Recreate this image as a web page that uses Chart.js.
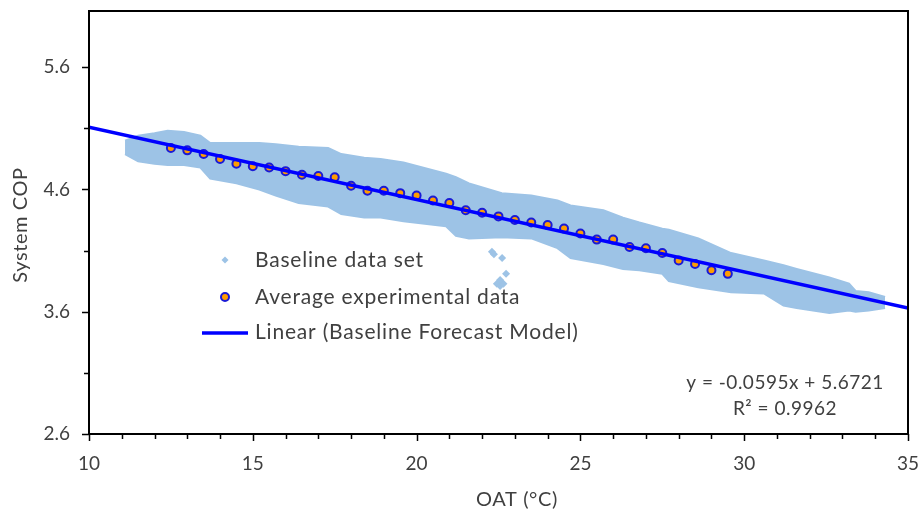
<!DOCTYPE html>
<html>
<head>
<meta charset="utf-8">
<script src="https://cdn.jsdelivr.net/npm/chart.js@4/dist/chart.umd.min.js"></script>
<style>
  html, body { margin: 0; padding: 0; background: #fff; }
</style>
</head>
<body>
<canvas id="copChart" width="922" height="513"></canvas>
<script>
/* Data */
// baseline cloud, outer edges of the band
const bandX     = [11.1, 11.5, 12.0, 12.4, 12.9, 13.4, 13.7, 14.5, 15.2, 15.7, 16.4, 17.3, 17.7, 18.4, 18.9, 19.6, 20.9, 21.2, 21.6, 22.6, 23.5, 24.3, 24.7, 25.7, 26.3, 26.8, 27.5, 27.7, 28.6, 29.6, 30.6, 31.2, 31.6, 32.6, 33.2, 33.4, 33.8, 34.3];
const bandUpper = [5.00, 5.04, 5.06, 5.08, 5.07, 5.04, 4.98, 4.98, 4.98, 4.97, 4.95, 4.94, 4.89, 4.86, 4.85, 4.82, 4.73, 4.70, 4.65, 4.57, 4.55, 4.51, 4.47, 4.43, 4.37, 4.33, 4.28, 4.27, 4.20, 4.08, 4.02, 3.98, 3.95, 3.88, 3.83, 3.77, 3.76, 3.72];
const bandLower = [4.89, 4.83, 4.81, 4.80, 4.80, 4.78, 4.69, 4.65, 4.60, 4.55, 4.49, 4.46, 4.40, 4.37, 4.37, 4.34, 4.30, 4.22, 4.20, 4.21, 4.20, 4.12, 4.04, 3.99, 3.95, 3.94, 3.91, 3.85, 3.80, 3.76, 3.75, 3.65, 3.63, 3.59, 3.61, 3.60, 3.61, 3.63];
// stray baseline points below the band near 22.5 C
const outlierX   = [22.30, 22.36, 22.61, 22.73, 22.45, 22.55, 22.65, 22.55];
const outlierCop = [4.09, 4.07, 4.04, 3.91, 3.83, 3.81, 3.83, 3.86];

// average experimental data
const avgX   = [12.5, 13, 13.5, 14, 14.5, 15, 15.5, 16, 16.5, 17, 17.5, 18, 18.5, 19, 19.5, 20, 20.5, 21, 21.5, 22, 22.5, 23, 23.5, 24, 24.5, 25, 25.5, 26, 26.5, 27, 27.5, 28, 28.5, 29, 29.5];
const avgCop = [4.94, 4.92, 4.89, 4.85, 4.81, 4.79, 4.78, 4.75, 4.72, 4.71, 4.70, 4.63, 4.59, 4.59, 4.57, 4.55, 4.51, 4.49, 4.43, 4.41, 4.38, 4.35, 4.33, 4.31, 4.28, 4.24, 4.19, 4.19, 4.13, 4.12, 4.08, 4.02, 3.99, 3.94, 3.91];

// linear trend, as drawn
const trendX   = [10, 35];
const trendCop = [5.11, 3.63];

// axes
const xMajorTicks = [10, 15, 20, 25, 30, 35];
const xMinorTicks = [11, 12, 13, 14, 16, 17, 18, 19, 21, 22, 23, 24, 26, 27, 28, 29, 31, 32, 33, 34];
const yMajorTicks = [2.6, 3.6, 4.6, 5.6];
const yMinorTicks = [3.1, 4.1, 5.1];

const seriesNames = ['Baseline data set', 'Average experimental data', 'Linear (Baseline Forecast Model)'];
const equationText = ['y = -0.0595x + 5.6721', 'R\u00B2 = 0.9962'];
const xTitle = 'OAT (\u00B0C)';
const yTitle = 'System COP';

/* Colours */
const bandColor = '#9dc3e6';
const lineColor = '#0000ff';
const avgFill = '#ff9c00';
const avgBorder = '#1a1ad6';
const textColor = '#404040';
const fontFamily = 'Lato, "Open Sans", sans-serif';

const toXY = (xs, ys) => xs.map((x, i) => ({ x: x, y: ys[i] }));

// frame, tick marks, axis titles, legend and equation
const decorPlugin = {
  id: 'decor',
  afterDraw(chart) {
    const ctx = chart.ctx;
    const area = chart.chartArea;
    const xs = chart.scales.x;
    const ys = chart.scales.y;
    ctx.save();

    // frame
    ctx.strokeStyle = '#000';
    ctx.lineWidth = 2;
    ctx.strokeRect(area.left, area.top, area.right - area.left, area.bottom - area.top);

    // tick marks
    ctx.lineWidth = 1.5;
    ctx.beginPath();
    xMajorTicks.forEach(v => {
      const px = Math.round(xs.getPixelForValue(v)) + 0.5;
      ctx.moveTo(px, area.bottom); ctx.lineTo(px, area.bottom + 7);
    });
    xMinorTicks.forEach(v => {
      const px = Math.round(xs.getPixelForValue(v)) + 0.5;
      ctx.moveTo(px, area.bottom); ctx.lineTo(px, area.bottom + 5);
    });
    yMajorTicks.forEach(v => {
      const py = Math.round(ys.getPixelForValue(v)) + 0.5;
      ctx.moveTo(area.left, py); ctx.lineTo(area.left - 7, py);
    });
    yMinorTicks.forEach(v => {
      const py = Math.round(ys.getPixelForValue(v)) + 0.5;
      ctx.moveTo(area.left, py); ctx.lineTo(area.left - 5, py);
    });
    ctx.stroke();

    // axis titles
    ctx.fillStyle = textColor;
    ctx.letterSpacing = '0.6px';
    ctx.font = '20px ' + fontFamily;
    ctx.textAlign = 'center';
    ctx.textBaseline = 'middle';
    ctx.fillText(xTitle, 517, 500);
    ctx.save();
    ctx.translate(21, 225);
    ctx.rotate(-Math.PI / 2);
    ctx.fillText(yTitle, 0, 0);
    ctx.restore();

    // equation
    ctx.letterSpacing = '0.5px';
    ctx.font = '19px ' + fontFamily;
    ctx.fillText(equationText[0], 785, 383);
    ctx.fillText(equationText[1], 785, 409);

    // legend
    const mx = 225, tx = 255;
    const rows = [260, 297, 332];
    ctx.fillStyle = bandColor;
    ctx.beginPath();
    ctx.moveTo(mx, rows[0] - 3.5); ctx.lineTo(mx + 3.5, rows[0]);
    ctx.lineTo(mx, rows[0] + 3.5); ctx.lineTo(mx - 3.5, rows[0]);
    ctx.closePath(); ctx.fill();

    ctx.beginPath();
    ctx.arc(mx, rows[1], 4, 0, Math.PI * 2);
    ctx.fillStyle = avgFill; ctx.fill();
    ctx.lineWidth = 2; ctx.strokeStyle = avgBorder; ctx.stroke();

    ctx.beginPath();
    ctx.moveTo(202, rows[2] + 1); ctx.lineTo(248, rows[2] + 1);
    ctx.lineWidth = 3.5; ctx.strokeStyle = lineColor; ctx.stroke();

    ctx.fillStyle = textColor;
    ctx.letterSpacing = '0.8px';
    ctx.font = '21px ' + fontFamily;
    ctx.textAlign = 'left';
    seriesNames.forEach((name, i) => ctx.fillText(name, tx, rows[i]));

    ctx.restore();
  }
};

// keep the plot box fixed, no extra room for edge labels
const fixPadding = scale => {
  scale.paddingLeft = 0; scale.paddingRight = 0;
  scale.paddingTop = 0; scale.paddingBottom = 0;
};

const ctxCop = document.getElementById('copChart').getContext('2d');

const copChart = new Chart(ctxCop, {
  type: 'line',
  data: {
    datasets: [
      {
        label: seriesNames[2],
        data: toXY(trendX, trendCop),
        borderColor: lineColor,
        borderWidth: 3.5,
        pointRadius: 0,
        fill: false,
        order: 0
      },
      {
        label: seriesNames[1],
        data: toXY(avgX, avgCop),
        showLine: false,
        pointRadius: 4,
        pointBorderWidth: 2,
        pointBackgroundColor: avgFill,
        pointBorderColor: avgBorder,
        order: 1
      },
      {
        label: seriesNames[0],
        data: toXY(outlierX, outlierCop),
        showLine: false,
        pointStyle: 'rectRot',
        pointRadius: 4,
        pointBorderWidth: 0,
        pointBackgroundColor: bandColor,
        pointBorderColor: bandColor,
        order: 2
      },
      {
        label: 'band upper',
        data: toXY(bandX, bandUpper),
        borderColor: bandColor,
        borderWidth: 2,
        backgroundColor: bandColor,
        pointRadius: 0,
        fill: '+1',
        order: 3
      },
      {
        label: 'band lower',
        data: toXY(bandX, bandLower),
        borderColor: bandColor,
        borderWidth: 2,
        pointRadius: 0,
        fill: false,
        order: 4
      }
    ]
  },
  options: {
    responsive: false,
    animation: false,
    devicePixelRatio: 1,
    layout: { padding: { top: 11, right: 14, left: 0, bottom: 0 } },
    plugins: {
      legend: { display: false },
      tooltip: { enabled: false }
    },
    scales: {
      x: {
        type: 'linear',
        min: 10,
        max: 35,
        afterBuildTicks: scale => { scale.ticks = xMajorTicks.map(v => ({ value: v })); },
        afterFit: scale => { scale.height = 79; fixPadding(scale); },
        grid: { display: false, drawTicks: false },
        border: { display: false },
        ticks: {
          padding: 18,
          maxRotation: 0,
          color: textColor,
          font: { family: fontFamily, size: 19 }
        }
      },
      y: {
        type: 'linear',
        min: 2.6,
        max: 6.06,
        afterBuildTicks: scale => { scale.ticks = yMajorTicks.map(v => ({ value: v })); },
        afterFit: scale => { scale.width = 89; fixPadding(scale); },
        grid: { display: false, drawTicks: false },
        border: { display: false },
        ticks: {
          padding: 19,
          color: textColor,
          font: { family: fontFamily, size: 19 },
          callback: v => v.toFixed(1)
        }
      }
    }
  },
  plugins: [decorPlugin]
});
</script>
</body>
</html>
